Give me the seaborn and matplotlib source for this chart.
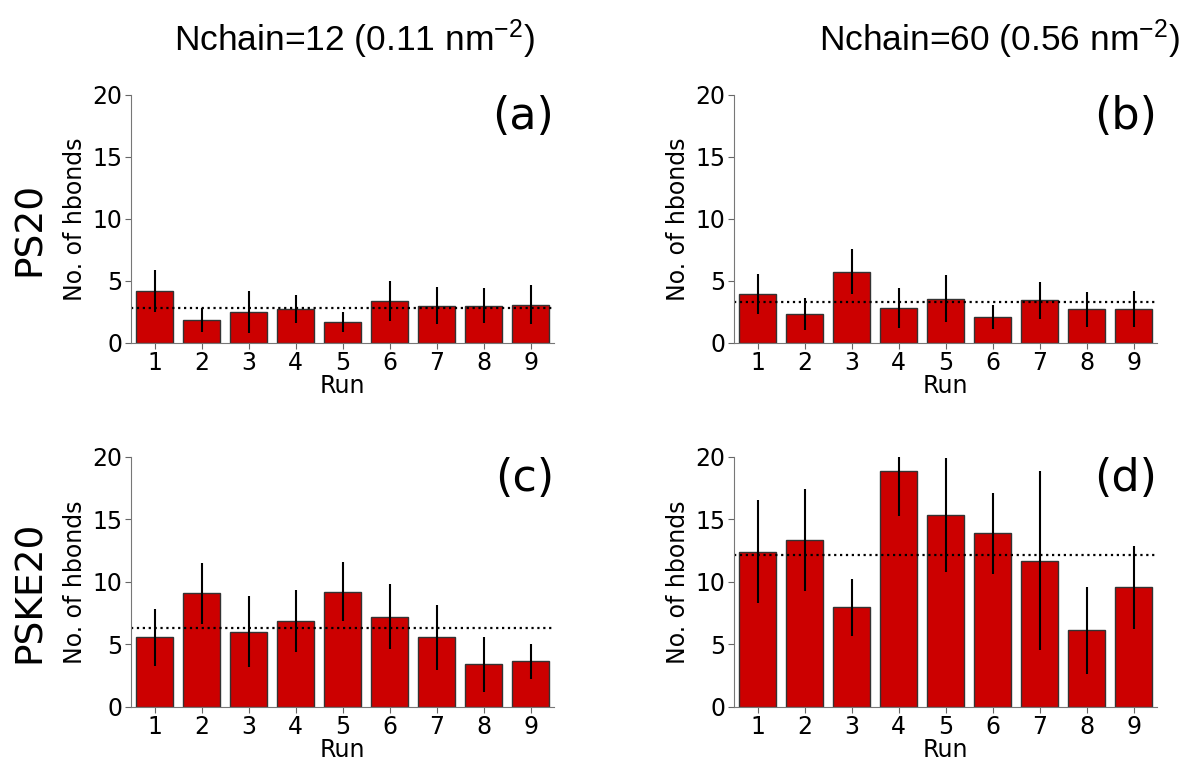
import numpy as np
import pandas as pd
import seaborn as sns
import matplotlib.pyplot as plt

runs = [1, 2, 3, 4, 5, 6, 7, 8, 9]

# PS20, Nchain=12
hb_a = [4.21, 1.88, 2.50, 2.74, 1.69, 3.41, 3.00, 3.00, 3.09]
sd_a = [1.70, 0.97, 1.68, 1.14, 0.77, 1.60, 1.48, 1.40, 1.60]
# PS20, Nchain=60
hb_b = [3.97, 2.31, 5.74, 2.82, 3.57, 2.09, 3.44, 2.71, 2.77]
sd_b = [1.60, 1.30, 1.80, 1.63, 1.90, 1.00, 1.47, 1.42, 1.46]
# PSKE20, Nchain=12
hb_c = [5.56, 9.09, 6.02, 6.87, 9.22, 7.22, 5.56, 3.40, 3.64]
sd_c = [2.30, 2.43, 2.83, 2.50, 2.38, 2.60, 2.60, 2.20, 1.37]
# PSKE20, Nchain=60
hb_d = [12.43, 13.37, 7.97, 18.85, 15.37, 13.90, 11.71, 6.12, 9.57]
sd_d = [4.10, 4.10, 2.30, 3.56, 4.55, 3.25, 7.15, 3.50, 3.34]

col_titles = ["Nchain=12 (0.11 nm$^{-2}$)", "Nchain=60 (0.56 nm$^{-2}$)"]
row_titles = ["PS20", "PSKE20"]
panel_tags = ["(a)", "(b)", "(c)", "(d)"]

sns.set_style("ticks")
plt.rcParams['font.family'] = ['DejaVu Sans']
plt.rcParams['text.color'] = 'black'
plt.rcParams['axes.labelcolor'] = 'black'
plt.rcParams['xtick.color'] = 'black'
plt.rcParams['ytick.color'] = 'black'
plt.rcParams['mathtext.fontset'] = 'custom'
plt.rcParams['mathtext.rm'] = 'Liberation Sans'
plt.rcParams['mathtext.it'] = 'Liberation Sans'
plt.rcParams['mathtext.default'] = 'regular'

fig = plt.figure(figsize=(11.86, 7.63), dpi=100)
boxes = [[0.1105, 0.5505, 0.3567, 0.325],
         [0.6189, 0.5505, 0.3567, 0.325],
         [0.1105, 0.0734, 0.3567, 0.3277],
         [0.6189, 0.0734, 0.3567, 0.3277]]
data = [(hb_a, sd_a), (hb_b, sd_b), (hb_c, sd_c), (hb_d, sd_d)]

for i, (vals, errs) in enumerate(data):
    ax = fig.add_axes(boxes[i])
    df = pd.DataFrame({'Run': runs, 'hb': vals})
    sns.barplot(data=df, x='Run', y='hb', color='#cc0000', saturation=1,
                edgecolor='#333333', linewidth=1, width=0.8, ax=ax)
    ax.errorbar(np.arange(len(runs)), vals, yerr=errs, fmt='none',
                ecolor='black', elinewidth=1.5, capsize=0)
    ax.axhline(np.mean(vals), ls=':', color='black', lw=1.6)
    ax.set_ylim(0, 20)
    ax.set_xlim(-0.5, 8.5)
    ax.set_yticks([0, 5, 10, 15, 20])
    ax.set_xlabel('Run', fontsize=17, labelpad=-1)
    ax.set_ylabel('No. of hbonds', fontsize=17, labelpad=4)
    ax.tick_params(labelsize=17, length=4, pad=2)
    ax.tick_params(axis='both', color='#666666')
    sns.despine(ax=ax)
    for s in ['left', 'bottom']:
        ax.spines[s].set_color('#777777')
    ax.text(1.0, 1.0, panel_tags[i], transform=ax.transAxes, ha='right',
            va='top', fontsize=32)

for j, t in enumerate(col_titles):
    fig.text([0.299, 0.843][j], 0.948, t, ha='center', va='center',
             fontsize=25.5, family='Liberation Sans')
for j, t in enumerate(row_titles):
    fig.text(0.025, [0.70, 0.225][j], t, ha='center', va='center',
             rotation=90, fontsize=27)

fig.savefig('out.png', dpi=100)
